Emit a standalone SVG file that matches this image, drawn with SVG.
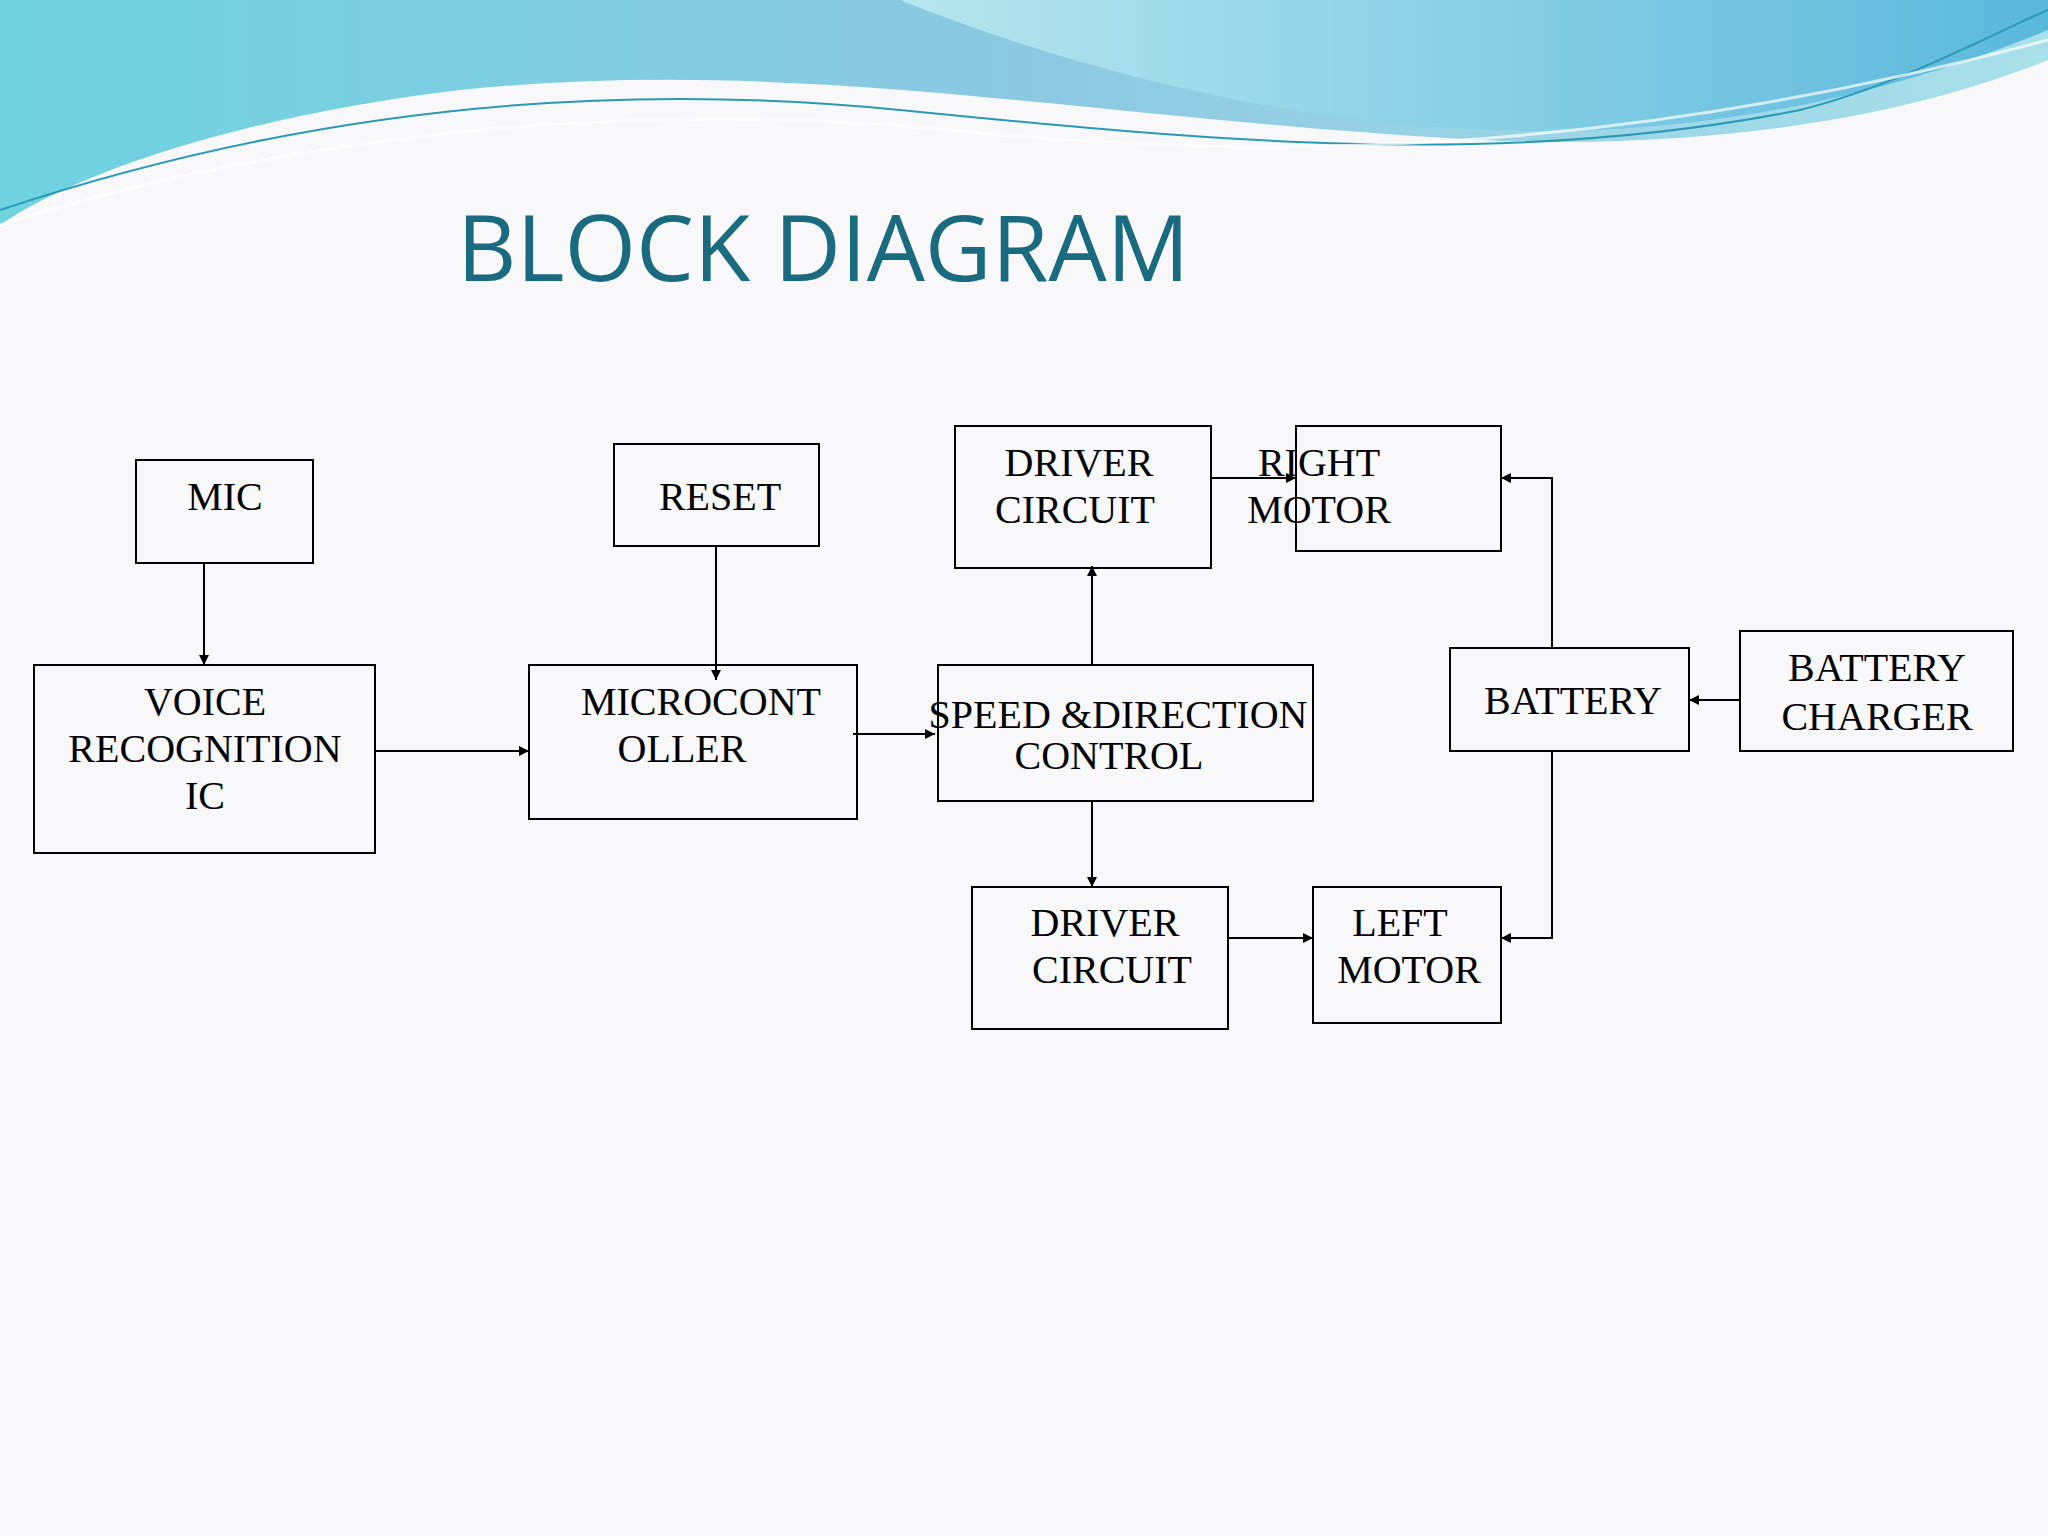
<svg xmlns="http://www.w3.org/2000/svg" width="2048" height="1536" viewBox="0 0 2048 1536">
<defs>
<linearGradient id="wg" x1="0" y1="0" x2="1" y2="0"><stop offset="0" stop-color="#6fd3e0"/><stop offset="0.5" stop-color="#8cc8e2"/><stop offset="1" stop-color="#a8e0ea"/></linearGradient>
<linearGradient id="wg2" x1="0" y1="0" x2="1" y2="0"><stop offset="0" stop-color="#b6e6ef"/><stop offset="1" stop-color="#5ab8dc"/></linearGradient>
<marker id="ah" viewBox="0 0 10 10" refX="10" refY="5" markerWidth="10" markerHeight="10" markerUnits="userSpaceOnUse" orient="auto"><path d="M0,0 L10,5 L0,10 Z" fill="#000"/></marker>
<style>
.b{fill:none;stroke:#000;stroke-width:2}
.t{font-family:"Liberation Serif",serif;font-size:40px;fill:#000;text-anchor:middle;dominant-baseline:central}
.c{fill:none;stroke:#000;stroke-width:2;marker-end:url(#ah)}
</style>
</defs>
<rect width="2048" height="1536" fill="#f8f8fb"/>
<path d="M0,0 H2048 V60 C1900,120 1700,150 1480,140 C1100,120 800,55 460,90 C250,115 80,170 0,225 Z" fill="url(#wg)"/>
<path d="M900,0 C1100,80 1350,140 1600,130 C1800,120 1950,70 2048,30 V0 Z" fill="url(#wg2)"/>
<path d="M0,210 C300,110 600,80 900,110 C1200,140 1500,170 1800,110 C1900,85 2000,30 2048,10" fill="none" stroke="#2a9ab5" stroke-width="2"/>
<path d="M0,225 C300,130 650,100 950,130 C1250,160 1600,160 2048,40" fill="none" stroke="#ffffff" stroke-width="3" opacity="0.7"/>
<text x="457" y="281" font-family="Open Sans, sans-serif" font-size="92" fill="#1a6b7f">BLOCK DIAGRAM</text>
<g id="mic"><rect class="b" x="136" y="460" width="177" height="103"/><text class="t" x="225" y="496">MIC</text></g>
<g id="reset"><rect class="b" x="614" y="444" width="205" height="102"/><text class="t" x="720" y="496">RESET</text></g>
<g id="voice"><rect class="b" x="34" y="665" width="341" height="188"/><text class="t" x="205" y="701">VOICE</text><text class="t" x="205" y="748">RECOGNITION</text><text class="t" x="205" y="795">IC</text></g>
<g id="micro"><rect class="b" x="529" y="665" width="328" height="154"/><text class="t" x="701" y="701">MICROCONT</text><text class="t" x="682" y="748">OLLER</text></g>
<g id="speed"><rect class="b" x="938" y="665" width="375" height="136"/><text class="t" x="1118" y="714" font-size="33">SPEED &amp;DIRECTION</text><text class="t" x="1109" y="755" font-size="33">CONTROL</text></g>
<g id="drv1"><rect class="b" x="955" y="426" width="256" height="142"/><text class="t" x="1079" y="462">DRIVER</text><text class="t" x="1075" y="509">CIRCUIT</text></g>
<g id="rmotor"><rect class="b" x="1296" y="426" width="205" height="125"/><text class="t" x="1319" y="462" text-anchor="start">RIGHT</text><text class="t" x="1319" y="509" text-anchor="start">MOTOR</text></g>
<g id="drv2"><rect class="b" x="972" y="887" width="256" height="142"/><text class="t" x="1105" y="922">DRIVER</text><text class="t" x="1112" y="969">CIRCUIT</text></g>
<g id="lmotor"><rect class="b" x="1313" y="887" width="188" height="136"/><text class="t" x="1400" y="922">LEFT</text><text class="t" x="1409" y="969">MOTOR</text></g>
<g id="battery"><rect class="b" x="1450" y="648" width="239" height="103"/><text class="t" x="1573" y="700">BATTERY</text></g>
<g id="charger"><rect class="b" x="1740" y="631" width="273" height="120"/><text class="t" x="1877" y="667">BATTERY</text><text class="t" x="1877" y="716">CHARGER</text></g>
<g id="connectors">
<path class="c" d="M204,563 V665"/>
<path class="c" d="M716,546 V680"/>
<path class="c" d="M375,751 H529"/>
<path class="c" d="M853,734 H935"/>
<path class="c" d="M1092,665 V566"/>
<path class="c" d="M1092,801 V887"/>
<path class="c" d="M1211,478 H1296"/>
<path class="c" d="M1228,938 H1313"/>
<path class="c" d="M1552,648 V478 H1501"/>
<path class="c" d="M1552,751 V938 H1501"/>
<path class="c" d="M1740,700 H1689"/>
</g>
</svg>
